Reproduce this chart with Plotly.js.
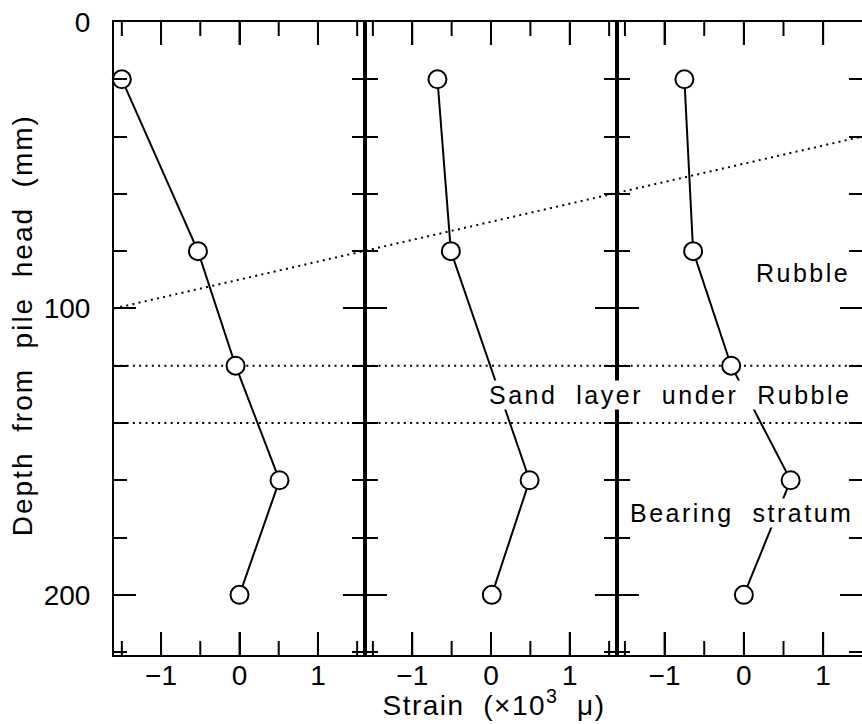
<!DOCTYPE html>
<html>
<head>
<meta charset="utf-8">
<script src="https://cdn.plot.ly/plotly-3.0.1.min.js"></script>
<style>
html, body { margin: 0; padding: 0; background: #fff; }
.annotation-text { letter-spacing: 2.5px; }
.annotation[data-index="3"] .annotation-text { letter-spacing: 1.5px; }
.annotation[data-index="4"] .annotation-text { letter-spacing: 2px; }
</style>
</head>
<body>
<div id="chart" style="width:862px;height:724px;"></div>
<script>
// Depth from pile head (mm)
const depthA = [20, 80, 120, 160, 200];
const depthB = [20, 80, 160, 200];
const depthC = [20, 80, 120, 160, 200];
// Strain (x10^3 micro)
const strainA = [-1.50, -0.53, -0.05, 0.51, 0.00];
const strainB = [-0.68, -0.51, 0.49, 0.01];
const strainC = [-0.75, -0.64, -0.16, 0.59, 0.00];
// Strain axis ticks
const majorStrainTicks = [-1, 0, 1];
const minorStrainTicks = [-1.5, -0.5, 0.5, 1.5];
// Layer boundaries (depth, mm)
const rubbleLineDepths = [100, 40];   // left edge, right edge
const sandTop = 120;
const sandBottom = 140;
const nb = '\u00a0\u00a0';
const layerLabels = ['Rubble', 'Sand' + nb + 'layer' + nb + 'under' + nb + 'Rubble', 'Bearing' + nb + 'stratum'];
const xTitle = 'Strain' + nb + '(\u00d710<sup>3</sup>' + nb + '\u03bc)';
const yTitle = 'Depth' + nb + 'from' + nb + 'pile' + nb + 'head' + nb + '(mm)';

const fam = 'Liberation Sans, Arial, Helvetica, sans-serif';

function traceOf(x, y, xa, ya) {
  return {
    x: x, y: y, xaxis: xa, yaxis: ya,
    type: 'scatter', mode: 'lines+markers',
    line: {color: '#000', width: 2},
    marker: {symbol: 'circle', size: 18, color: '#fff', line: {color: '#000', width: 2}},
    cliponaxis: false, hoverinfo: 'skip'
  };
}

function xAxis(domain, range, anchor) {
  return {
    domain: domain, range: range, anchor: anchor,
    showline: true, linewidth: 2, linecolor: '#000', mirror: 'ticks',
    ticks: 'inside', ticklen: 23, tickwidth: 2, tickcolor: '#000',
    tickmode: 'array', tickvals: majorStrainTicks,
    tickfont: {family: fam, size: 28, color: '#000'},
    ticklabelstandoff: -6,
    showgrid: false, zeroline: false, fixedrange: true
  };
}

function yAxis(anchor, extra) {
  return Object.assign({
    anchor: anchor, range: [221, 0],
    showline: true, linewidth: 2, linecolor: '#000', mirror: 'ticks',
    ticks: 'inside', ticklen: 22, tickwidth: 2, tickcolor: '#000',
    tick0: 0, dtick: 100,
    tickfont: {family: fam, size: 28, color: '#000'},
    ticklabelstandoff: 16,
    minor: {ticks: 'inside', ticklen: 13, tickwidth: 2, tickcolor: '#000', dtick: 20, showgrid: false},
    showgrid: false, zeroline: false, fixedrange: true
  }, extra || {});
}

const d1 = 251 / 748, d2 = 503 / 748;
const panels = [
  {xa: 'x', range: [-1.6, 1.6]},
  {xa: 'x2', range: [-1.6, 1.6]},
  {xa: 'x3', range: [-1.6, 1.49]}
];

const data = [
  traceOf(strainA, depthA, 'x', 'y'),
  traceOf(strainB, depthB, 'x2', 'y2'),
  traceOf(strainC, depthC, 'x3', 'y3')
];

const dotted = {color: '#000', width: 2, dash: '2px,4.3px'};
const lblFont = {family: fam, size: 25, color: '#000'};
const ttlFont = {family: fam, size: 28, color: '#000'};

// strain-axis tick marks (bottom and top edges), placed through each x axis
const tickShapes = [];
panels.forEach(function (p) {
  [[majorStrainTicks, 23], [minorStrainTicks, 14]].forEach(function (set) {
    set[0].forEach(function (v) {
      if (v < p.range[0] || v > p.range[1]) return;
      tickShapes.push({type: 'line', xref: p.xa, yref: 'paper', ysizemode: 'pixel', yanchor: 0,
        x0: v, x1: v, y0: 0, y1: set[1], line: {color: '#000', width: 2}, layer: 'above'});
      tickShapes.push({type: 'line', xref: p.xa, yref: 'paper', ysizemode: 'pixel', yanchor: 1,
        x0: v, x1: v, y0: 0, y1: -set[1], line: {color: '#000', width: 2}, layer: 'above'});
    });
  });
});

const layout = {
  width: 862, height: 724,
  margin: {l: 114, r: 0, t: 22, b: 69},
  paper_bgcolor: '#fff', plot_bgcolor: '#fff',
  showlegend: false,
  font: {family: fam, color: '#000'},
  xaxis: xAxis([0, d1], panels[0].range, 'y'),
  xaxis2: xAxis([d1, d2], panels[1].range, 'y2'),
  xaxis3: xAxis([d2, 1], panels[2].range, 'y3'),
  yaxis: yAxis('x'),
  yaxis2: yAxis('x2', {matches: 'y', showticklabels: false}),
  yaxis3: yAxis('x3', {matches: 'y', showticklabels: false}),
  shapes: [
    {type: 'line', xref: 'paper', yref: 'y', x0: 0, x1: 1, y0: rubbleLineDepths[0], y1: rubbleLineDepths[1], line: dotted, layer: 'below'},
    {type: 'line', xref: 'paper', yref: 'y', x0: 0, x1: 1, y0: sandTop, y1: sandTop, line: dotted, layer: 'below'},
    {type: 'line', xref: 'paper', yref: 'y', x0: 0, x1: 1, y0: sandBottom, y1: sandBottom, line: dotted, layer: 'below'}
  ].concat(tickShapes),
  annotations: [
    {text: layerLabels[0], xref: 'x3', yref: 'y', x: 0.74, y: 87.6, xanchor: 'center', yanchor: 'middle',
     showarrow: false, font: lblFont, bgcolor: '#fff', borderpad: 0},
    {text: layerLabels[1], xref: 'paper', yref: 'y', x: 0.7427, y: 130.2, xanchor: 'center', yanchor: 'middle',
     showarrow: false, font: lblFont, bgcolor: '#fff', borderpad: 0},
    {text: layerLabels[2], xref: 'x3', yref: 'y', x: -0.03, y: 171.4, xanchor: 'center', yanchor: 'middle',
     showarrow: false, font: lblFont, bgcolor: '#fff', borderpad: 0},
    {text: xTitle, xref: 'paper', yref: 'paper', x: 0.508, y: -0.0758, xanchor: 'center', yanchor: 'middle',
     showarrow: false, font: ttlFont},
    {text: yTitle, xref: 'paper', yref: 'paper', x: -0.1217, y: 0.5221, xanchor: 'center', yanchor: 'middle',
     textangle: -90, showarrow: false, font: ttlFont}
  ]
};

Plotly.newPlot('chart', data, layout, {staticPlot: true, displayModeBar: false});
</script>
</body>
</html>
